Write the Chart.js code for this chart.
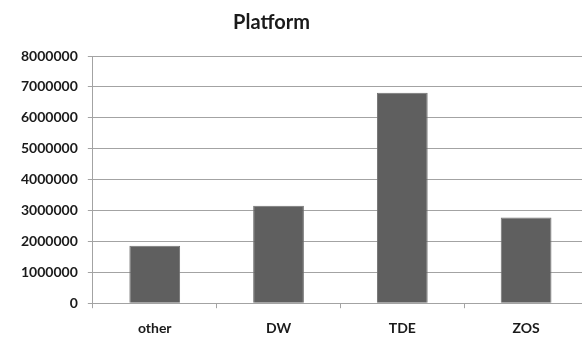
<!DOCTYPE html>
<html>
<head>
<meta charset="utf-8">
<title>Platform</title>
<script src="https://cdn.jsdelivr.net/npm/chart.js@4.4.1/dist/chart.umd.min.js"></script>
<style>
  html, body { margin: 0; padding: 0; background: #ffffff; overflow: hidden; }
  #wrap { width: 582px; height: 340px; overflow: hidden; position: relative; }
  canvas { display: block; }
</style>
</head>
<body>
<div id="wrap"><canvas id="chart" width="600" height="340"></canvas></div>
<script>
// Platform totals
const chartTitle = 'Platform';
const categories = ['other', 'DW', 'TDE', 'ZOS'];
const platformTotals = [1860000, 3150000, 6810000, 2770000];
const yTicks = [0, 1000000, 2000000, 3000000, 4000000, 5000000, 6000000, 7000000, 8000000];

const GRID = '#a3a3a3';
const TEXT = '#1a1a1a';
const FONT = 'Lato, "Open Sans", "Liberation Sans", sans-serif';

// Heading drawn above the plot, centred over the visible part of the figure
const headingPlugin = {
  id: 'heading',
  afterDraw(chart, args, opts) {
    const ctx = chart.ctx;
    ctx.save();
    ctx.font = 'bold 20px ' + FONT;
    ctx.fillStyle = TEXT;
    ctx.textAlign = 'center';
    ctx.textBaseline = 'middle';
    ctx.fillText(opts.text, opts.x, opts.y);
    ctx.restore();
  }
};

new Chart(document.getElementById('chart'), {
  type: 'bar',
  data: {
    labels: categories,
    datasets: [{
      label: chartTitle,
      data: platformTotals,
      backgroundColor: '#5f5f5f',
      borderColor: '#737373',
      borderWidth: 1,
      categoryPercentage: 1.0,
      barPercentage: 0.41
    }]
  },
  options: {
    responsive: false,
    animation: false,
    devicePixelRatio: 1,
    layout: { padding: { left: 11, right: 12, top: 56, bottom: -9 } },
    plugins: {
      legend: { display: false },
      tooltip: { enabled: false },
      title: { display: false },
      heading: { text: chartTitle, x: 271.5, y: 23 }
    },
    scales: {
      x: {
        offset: true,
        grid: {
          offset: true,
          drawOnChartArea: false,
          drawTicks: true,
          tickLength: 5,
          color: GRID,
          lineWidth: 1
        },
        border: { display: true, color: GRID, width: 1 },
        ticks: {
          color: TEXT,
          padding: 12,
          font: { family: FONT, size: 14, weight: 'bold' }
        }
      },
      y: {
        min: 0,
        max: 8000000,
        afterBuildTicks(scale) {
          scale.ticks = yTicks.map(v => ({ value: v }));
        },
        grid: {
          drawTicks: true,
          tickLength: 5,
          color: GRID,
          lineWidth: 1
        },
        border: { display: true, color: GRID, width: 1 },
        ticks: {
          color: TEXT,
          padding: 10,
          font: { family: FONT, size: 14, weight: 'bold' },
          callback: (v) => String(v)
        }
      }
    }
  },
  plugins: [headingPlugin]
});
</script>
</body>
</html>
